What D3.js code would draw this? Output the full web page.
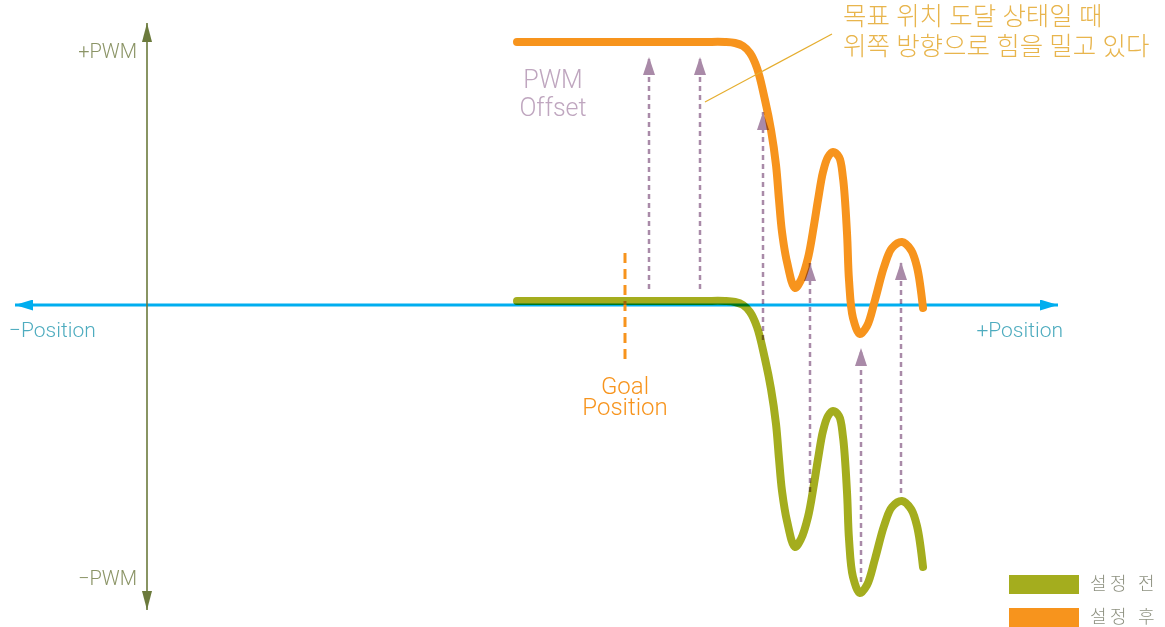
<!DOCTYPE html>
<html>
<head>
<meta charset="utf-8">
<script src="https://cdn.jsdelivr.net/npm/d3@7"></script>
<style>
    body { margin: 0; background: #fff; }
    svg { display: block; font-family: "Roboto", "Noto Sans CJK KR", sans-serif; font-weight: 300; }
</style>
</head>
<body>
<div id="chart"></div>
<script>
// position samples along the travel (arbitrary units, 0 = origin)
const positions = [37.0, 55.3, 57.8, 58.8, 59.6, 60.3, 61.0, 61.8, 62.4, 62.9, 63.2, 63.5, 64.0, 64.8, 65.4, 66.1, 66.7, 67.1,
    67.6, 68.1, 68.6, 69.2, 69.6, 70.0, 70.2, 70.6, 71.3, 72.0, 72.8, 73.7, 74.5, 75.5, 76.4, 77.0, 77.6];

// PWM output before the offset is set (설정 전)
const pwmBefore = [0.4, 0.4, 0.4, 0.3, 0.0, -0.7, -2.2, -5.4, -8.4, -11.9, -15.4, -18.6, -21.6, -24.2, -23.4, -21.2, -17.9, -15.4,
    -12.6, -11.1, -10.6, -11.1, -13.2, -18.7, -23.4, -27.2, -28.8, -28.0, -25.4, -22.1, -20.2, -19.6, -20.4, -22.1, -26.2];

// PWM output after the offset is set (설정 후)
const pwmAfter = [26.3, 26.3, 26.3, 26.2, 25.9, 25.2, 23.7, 20.5, 17.5, 14.0, 10.5, 7.3, 4.3, 1.7, 2.5, 4.7, 8.0, 10.5,
    13.3, 14.8, 15.3, 14.8, 12.7, 7.2, 2.5, -1.3, -2.9, -2.1, 0.5, 3.8, 5.7, 6.3, 5.5, 3.8, -0.3];

// offset arrows: position, start PWM, end PWM
const offsetX = [50.2, 55.3, 61.6, 66.3, 71.4, 75.4];
const offsetFrom = [1.6, 1.6, -3.5, -18.7, -27.7, -18.8];
const offsetTo = [24.8, 24.8, 19.3, 4.2, -4.3, 4.3];

// goal position marker
const goalPosition = 47.8;
const goalSpan = [-5.4, 5.2];

// axis extents
const positionRange = [-13.2, 91.1];
const pwmRange = [-30.5, 28.2];

const seriesNames = ["설정 전", "설정 후"];
const annotationLines = ["목표 위치 도달 상태일 때", "위쪽 방향으로 힘을 밀고 있다"];

const width = 1165;
const height = 627;
const olive = "#a4ad1e";
const orange = "#f7941d";
const mauve = "#a98aa8";

const svg = d3.select("#chart")
    .append("svg")
    .attr("width", width)
    .attr("height", height);

const xScale = d3.scaleLinear().domain(positionRange).range([15, 1058]);
const yScale = d3.scaleLinear().domain(pwmRange).range([610, 23]);

// arrow markers
const defs = svg.append("defs");
function marker(id, color, w, h) {
    defs.append("marker")
        .attr("id", id)
        .attr("viewBox", `0 ${-h / 2} ${w} ${h}`)
        .attr("refX", w)
        .attr("refY", 0)
        .attr("markerUnits", "userSpaceOnUse")
        .attr("markerWidth", w)
        .attr("markerHeight", h)
        .attr("orient", "auto")
        .append("path")
        .attr("d", `M0,${-h / 2}L${w},0L0,${h / 2}Z`)
        .attr("fill", color);
}
marker("axisV", "#6b7a3c", 19, 10);
marker("axisH", "#00aeef", 18, 11);
marker("offsetHead", mauve, 18, 12);

// horizontal axis (position)
svg.append("line")
    .attr("x1", xScale(0)).attr("x2", xScale(positionRange[1]))
    .attr("y1", yScale(0)).attr("y2", yScale(0))
    .attr("stroke", "#00aeef").attr("stroke-width", 3)
    .attr("marker-end", "url(#axisH)");
svg.append("line")
    .attr("x1", xScale(0)).attr("x2", xScale(positionRange[0]))
    .attr("y1", yScale(0)).attr("y2", yScale(0))
    .attr("stroke", "#00aeef").attr("stroke-width", 3)
    .attr("marker-end", "url(#axisH)");

// vertical axis (PWM)
svg.append("line")
    .attr("x1", xScale(0)).attr("x2", xScale(0))
    .attr("y1", yScale(0)).attr("y2", yScale(pwmRange[1]))
    .attr("stroke", "#6b7a3c").attr("stroke-width", 1.6)
    .attr("marker-end", "url(#axisV)");
svg.append("line")
    .attr("x1", xScale(0)).attr("x2", xScale(0))
    .attr("y1", yScale(0)).attr("y2", yScale(pwmRange[0]))
    .attr("stroke", "#6b7a3c").attr("stroke-width", 1.6)
    .attr("marker-end", "url(#axisV)");

// axis labels
svg.append("text").attr("x", 137).attr("y", 58).attr("text-anchor", "end")
    .style("font-size", "20px").attr("fill", "#8b9466").text("+PWM");
svg.append("text").attr("x", 137).attr("y", 585).attr("text-anchor", "end")
    .style("font-size", "20px").attr("fill", "#8b9466").text("\u2212PWM");
svg.append("text").attr("x", 9).attr("y", 337)
    .style("font-size", "21px").attr("fill", "#4eacbf").text("\u2212Position");
svg.append("text").attr("x", 1063).attr("y", 337).attr("text-anchor", "end")
    .style("font-size", "21px").attr("fill", "#4eacbf").text("+Position");

// goal position marker
svg.append("line")
    .attr("x1", xScale(goalPosition)).attr("x2", xScale(goalPosition))
    .attr("y1", yScale(goalSpan[1])).attr("y2", yScale(goalSpan[0]))
    .attr("stroke", orange).attr("stroke-width", 3)
    .attr("stroke-dasharray", "10,6");
const goalLabel = svg.append("text")
    .attr("text-anchor", "middle")
    .style("font-size", "24px")
    .attr("fill", orange);
goalLabel.selectAll("tspan")
    .data(["Goal", "Position"])
    .join("tspan")
    .attr("x", xScale(goalPosition))
    .attr("y", (d, i) => 394 + i * 21)
    .text(d => d);

// PWM curves
const points = (values) => positions.map((p, i) => [p, values[i]]);
const line = d3.line()
    .x(d => xScale(d[0]))
    .y(d => yScale(d[1]))
    .curve(d3.curveCatmullRom.alpha(0.5));

svg.append("path")
    .attr("d", line(points(pwmBefore)))
    .attr("fill", "none")
    .attr("stroke", olive)
    .attr("stroke-width", 8)
    .attr("stroke-linecap", "round")
    .attr("stroke-linejoin", "round")
    .style("mix-blend-mode", "multiply");

svg.append("path")
    .attr("d", line(points(pwmAfter)))
    .attr("fill", "none")
    .attr("stroke", orange)
    .attr("stroke-width", 8)
    .attr("stroke-linecap", "round")
    .attr("stroke-linejoin", "round");

// offset arrows
svg.selectAll(".offset")
    .data(offsetX)
    .join("line")
    .attr("class", "offset")
    .attr("x1", d => xScale(d)).attr("x2", d => xScale(d))
    .attr("y1", (d, i) => yScale(offsetFrom[i]))
    .attr("y2", (d, i) => yScale(offsetTo[i]))
    .attr("stroke", mauve)
    .attr("stroke-width", 2.5)
    .attr("stroke-dasharray", "5,4")
    .attr("marker-end", "url(#offsetHead)")
    .style("mix-blend-mode", "multiply");

// PWM Offset label
const offsetLabel = svg.append("text")
    .attr("text-anchor", "middle")
    .style("font-size", "25px")
    .attr("fill", "#bfa6bf");
offsetLabel.selectAll("tspan")
    .data(["PWM", "Offset"])
    .join("tspan")
    .attr("x", 553)
    .attr("y", (d, i) => 88 + i * 28)
    .text(d => d);

// annotation
svg.append("line")
    .attr("x1", 705).attr("y1", 102).attr("x2", 832).attr("y2", 34)
    .attr("stroke", "#e5ad2e").attr("stroke-width", 1.2);
svg.selectAll(".note")
    .data(annotationLines)
    .join("text")
    .attr("class", "note")
    .attr("x", 843)
    .attr("y", (d, i) => 25 + i * 30)
    .style("font-size", "25.5px")
    .attr("fill", "#e8b54d")
    .text(d => d);

// legend
const legend = svg.selectAll(".legend")
    .data(seriesNames)
    .join("g")
    .attr("class", "legend")
    .attr("transform", (d, i) => `translate(1009, ${575 + i * 33})`);
legend.append("rect")
    .attr("width", 70).attr("height", 19)
    .attr("fill", (d, i) => [olive, orange][i]);
legend.append("text")
    .attr("x", 81).attr("y", 15)
    .style("font-size", "18px")
    .style("letter-spacing", "3.5px")
    .attr("fill", "#8e9180")
    .text(d => d);
</script>
</body>
</html>
